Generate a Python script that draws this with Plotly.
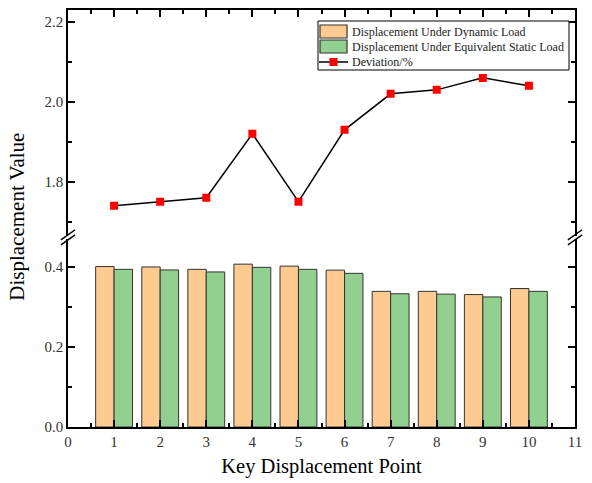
import plotly.graph_objects as go

points = list(range(1, 11))
dynamic_disp = [0.401, 0.400, 0.394, 0.407, 0.402, 0.392, 0.339, 0.339, 0.331, 0.346]
static_disp = [0.394, 0.3925, 0.3875, 0.399, 0.394, 0.384, 0.333, 0.332, 0.325, 0.339]
deviation = [1.74, 1.75, 1.76, 1.92, 1.75, 1.93, 2.02, 2.03, 2.06, 2.04]
legend_names = ["Displacement Under Dynamic Load",
                "Displacement Under Equivalent Static Load",
                "Deviation/%"]

font_family = "Liberation Serif"
orange = "#FDCA8F"
green = "#92D08F"
edge = "#333333"

fig = go.Figure()
fig.add_trace(go.Bar(x=points, y=dynamic_disp, name=legend_names[0],
                     marker=dict(color=orange, line=dict(color=edge, width=1)),
                     xaxis="x", yaxis="y", showlegend=False))
fig.add_trace(go.Bar(x=points, y=static_disp, name=legend_names[1],
                     marker=dict(color=green, line=dict(color=edge, width=1)),
                     xaxis="x", yaxis="y", showlegend=False))
fig.add_trace(go.Scatter(x=points, y=deviation, name=legend_names[2], mode="lines+markers",
                         line=dict(color="black", width=1.5),
                         marker=dict(symbol="square", size=8, color="#FF0000"),
                         xaxis="x2", yaxis="y2", showlegend=False))

tickfont = dict(family=font_family, size=15, color="#333333")
common_y = dict(showline=True, linecolor="black", linewidth=1.5, mirror="allticks",
                ticks="inside", ticklen=7, tickwidth=1.5, tickcolor="black",
                showgrid=False, zeroline=False, tickfont=tickfont, dtick=0.2,
                tickformat=".1f",
                minor=dict(ticks="inside", ticklen=4, tickwidth=1.5, tickcolor="black", dtick=0.1))

lower_dom = [0, 0.451]
upper_dom = [0.459, 1]

fig.update_layout(
    width=592, height=483,
    margin=dict(l=68, r=17, t=10, b=56),
    plot_bgcolor="white", paper_bgcolor="white",
    barmode="group", bargap=0.2, bargroupgap=0,
    font=dict(family=font_family, color="black"),
    xaxis=dict(range=[0, 11], dtick=1, showline=True, linecolor="black", linewidth=1.5,
               ticks="inside", ticklen=7, tickwidth=1.5, tickcolor="black",
               showgrid=False, zeroline=False, tickfont=tickfont, anchor="y",
               minor=dict(ticks="inside", ticklen=4, tickwidth=1.5, tickcolor="black", dtick=0.5),
               title=dict(text="Key Displacement Point", font=dict(family=font_family, size=20.5),
                          standoff=10)),
    xaxis2=dict(range=[0, 11], dtick=1, showline=True, linecolor="black", linewidth=1.5,
                ticks="inside", ticklen=7, tickwidth=1.5, tickcolor="black",
                showticklabels=False, showgrid=False, zeroline=False,
                anchor="y2", side="top", overlaying="x",
                minor=dict(ticks="inside", ticklen=4, tickwidth=1.5, tickcolor="black", dtick=0.5)),
    yaxis=dict(range=[0, 0.47], domain=lower_dom, anchor="x", tick0=0, **common_y),
    yaxis2=dict(range=[1.665, 2.23], domain=upper_dom, anchor="x2", tick0=1.8, **common_y),
    showlegend=False,
)

# Y axis title spanning both panels
fig.add_annotation(text="Displacement Value", xref="paper", yref="paper",
                   x=-0.1, y=0.505, xanchor="center", yanchor="middle",
                   textangle=-90, showarrow=False,
                   font=dict(family=font_family, size=21, color="black"))

# Axis break marks
for xp in [0, 1]:
    for dy in [-0.006, 0.006]:
        fig.add_shape(type="line", xref="paper", yref="paper",
                      x0=xp - 0.014, x1=xp + 0.014,
                      y0=0.455 + dy - 0.012, y1=0.455 + dy + 0.012,
                      line=dict(color="black", width=1.5))

# Custom compact legend (pixel -> paper conversion)
def px(xp):
    return (xp - 68) / 507

def py(yp):
    return (427 - yp) / 417

fig.add_shape(type="rect", xref="paper", yref="paper",
              x0=px(318), x1=px(569), y0=py(70), y1=py(21),
              line=dict(color="black", width=1), fillcolor="white")
for (c, y0, y1) in [(orange, 25, 38), (green, 40, 53)]:
    fig.add_shape(type="rect", xref="paper", yref="paper",
                  x0=px(320), x1=px(347), y0=py(y1), y1=py(y0),
                  line=dict(color=edge, width=1.2), fillcolor=c)
fig.add_shape(type="line", xref="paper", yref="paper",
              x0=px(319), x1=px(348), y0=py(62), y1=py(62),
              line=dict(color="black", width=1.5))
fig.add_shape(type="rect", xref="paper", yref="paper",
              x0=px(329.5), x1=px(337.5), y0=py(66), y1=py(58),
              line=dict(color="#FF0000", width=0), fillcolor="#FF0000")
for name, yc in zip(legend_names, [31.5, 47, 62]):
    fig.add_annotation(text=name, xref="paper", yref="paper",
                       x=px(350), y=py(yc), xanchor="left", yanchor="middle",
                       showarrow=False,
                       font=dict(family=font_family, size=12, color="#222222"))

fig.write_html("out.html")
